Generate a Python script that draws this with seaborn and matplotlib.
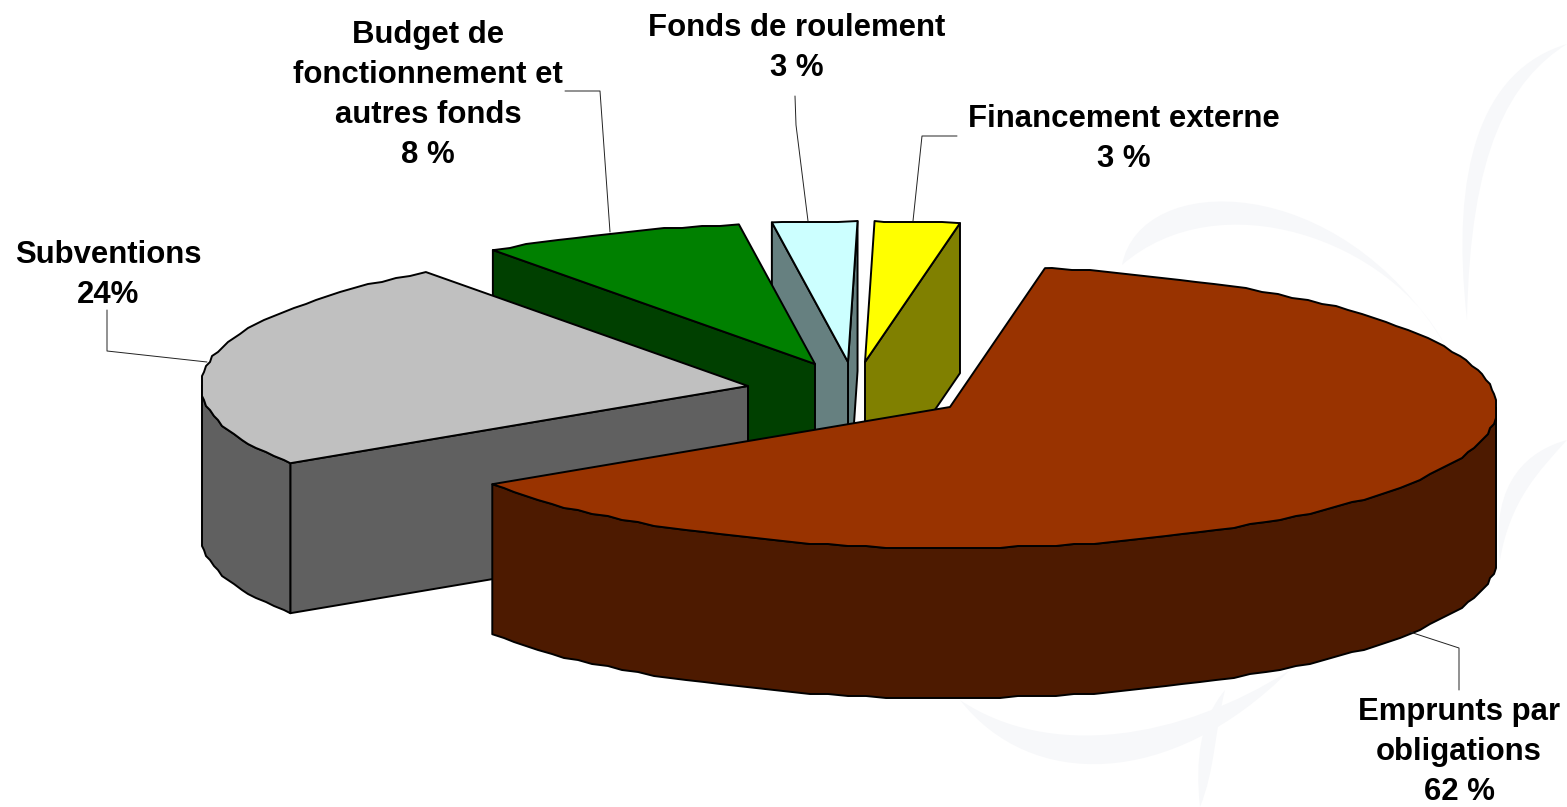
import numpy as np
import matplotlib
matplotlib.use("Agg")
import matplotlib.pyplot as plt
from matplotlib.path import Path
from matplotlib.patches import PathPatch
import seaborn as sns

# drawn in stacking order, back slice first
names = ["Financement externe", "Fonds de roulement",
         "Budget de\nfonctionnement et\nautres fonds", "Subventions",
         "Emprunts par\nobligations"]
printed = ["3 %", "3 %", "8 %", "24%", "62 %"]
# share of the ellipse each slice takes, as measured on the picture
shares = [2.5, 2.5, 7.8, 24.2, 63.0]
top_colors = ["#FFFF00", "#CCFFFF", "#008000", "#C0C0C0", "#993300"]
side_colors = ["#808000", "#668080", "#004000", "#606060", "#4D1A00"]

# layout, in pixels of the output picture
start_angle = 80
rx, ry, depth = 547, 141, 150
centers = [(865, 362), (848, 362), (815, 364), (748, 386), (950, 407)]
label_pos = [(1124, 139), (797, 48), (428, 95), (108, 275), (1459, 752)]
leaders = [[(957, 136), (922, 136), (913, 221)],
           [(795, 96), (796, 125), (808, 221)],
           [(565, 91), (600, 91), (610, 232)],
           [(107, 310), (107, 351), (207, 362)],
           [(1459, 690), (1459, 648), (1410, 632)]]
# faint logo behind the chart: two cubic curves for each band
watermark = [
    [(1122, 265), (1140, 170), (1340, 170), (1445, 345), (1390, 240), (1220, 180), (1122, 265)],
    [(1467, 320), (1450, 170), (1480, 70), (1567, 44), (1510, 80), (1470, 150), (1467, 320)],
    [(1500, 560), (1490, 480), (1530, 450), (1567, 440), (1540, 470), (1510, 500), (1500, 560)],
    [(960, 700), (1030, 790), (1170, 790), (1290, 670), (1180, 740), (1050, 760), (960, 700)],
    [(1200, 807), (1195, 760), (1200, 720), (1225, 690), (1215, 730), (1215, 770), (1200, 807)],
]

sns.set_theme(style="white")
plt.rcParams["font.family"] = ["Liberation Sans", "DejaVu Sans"]


def rim(cx, cy, a0, a1, step=2.0):
    a = np.array(np.arange(a0, a1, step).tolist() + [a1])
    t = np.radians(a)
    x = cx + rx * np.cos(t)
    y = cy - ry * np.sin(t)
    # the original outline is slightly stepped
    x[1:-1] = np.round(x[1:-1] / 2) * 2
    y[1:-1] = np.round(y[1:-1] / 2) * 2
    return a, x, y


fig, ax = plt.subplots(figsize=(15.67, 8.07), dpi=100)
fig.subplots_adjust(0, 0, 1, 1)
ax.set_xlim(0, 1567)
ax.set_ylim(807, 0)
ax.axis("off")

for band in watermark:
    codes = [Path.MOVETO] + [Path.CURVE4] * 6
    ax.add_patch(PathPatch(Path(band, codes), fc="#F7F8FA", ec="none", zorder=0))

edge = dict(ec="black", lw=1.4, joinstyle="round")
bounds = start_angle + np.cumsum([0] + shares) * 3.6

for i in range(len(names)):
    cx, cy = centers[i]
    a0, a1 = bounds[i], bounds[i + 1]
    a, x, y = rim(cx, cy, a0, a1)

    # cut faces, only those turned to the viewer
    for k, normal in ((0, a0 - 90), (-1, a1 + 90)):
        if np.sin(np.radians(normal)) < 0:
            ax.fill([cx, x[k], x[k], cx], [cy, y[k], y[k] + depth, cy + depth],
                    fc=side_colors[i], zorder=i + 1, **edge)

    # outer wall, same outline as the top
    front = np.sin(np.radians(a)) < 0
    if front.any():
        xf, yf = x[front], y[front]
        ax.fill(np.r_[xf, xf[::-1]], np.r_[yf, yf[::-1] + depth],
                fc=side_colors[i], zorder=i + 1, **edge)

    # top face
    ax.fill(np.r_[cx, x], np.r_[cy, y], fc=top_colors[i], zorder=i + 1, **edge)

    lx, ly = zip(*leaders[i])
    ax.plot(lx, ly, color="#222222", lw=0.7, zorder=10)
    ax.text(label_pos[i][0], label_pos[i][1], names[i] + "\n" + printed[i],
            ha="center", va="center", ma="center", fontsize=22.4,
            fontweight="bold", color="black", linespacing=1.43, zorder=11)

fig.savefig("out.png", dpi=100, facecolor="white")
